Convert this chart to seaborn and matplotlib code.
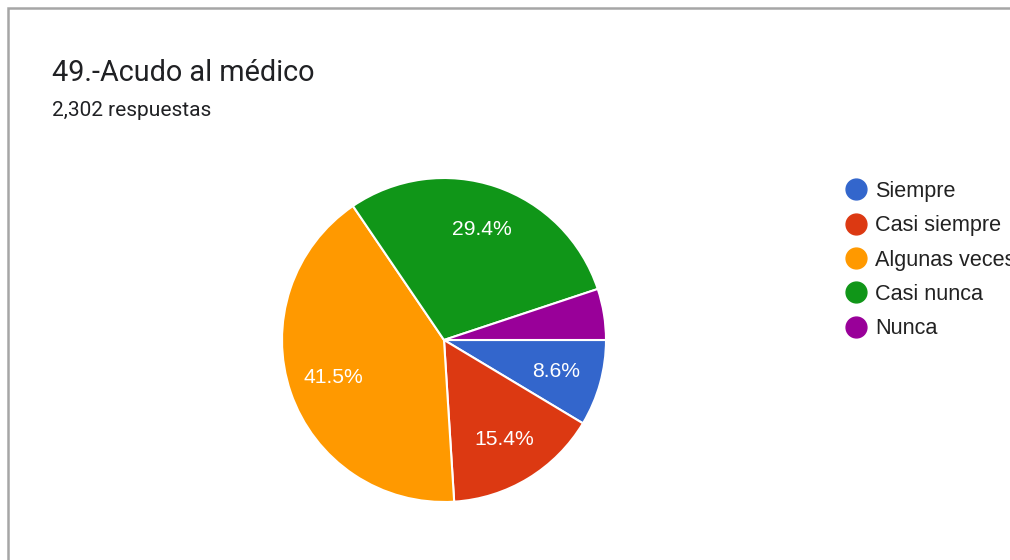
import matplotlib
matplotlib.use("Agg")
import matplotlib.pyplot as plt
import seaborn as sns
from matplotlib.lines import Line2D
from matplotlib.patches import Rectangle

# datos
categorias = ["Siempre", "Casi siempre", "Algunas veces", "Casi nunca", "Nunca"]
porcentajes = [8.6, 15.4, 41.5, 29.4, 5.1]
colores = ["#3366cc", "#dc3912", "#ff9900", "#109618", "#990099"]
titulo = "49.-Acudo al médico"
subtitulo = "2,302 respuestas"

sns.set_theme(style="white")
plt.rcParams['font.family'] = ['Liberation Sans', 'DejaVu Sans']

fig = plt.figure(figsize=(10.1, 5.6), dpi=100)
fig.patch.set_facecolor("white")

# marco gris
fig.add_artist(Rectangle((8 / 1010, -0.1), 1.2, 1.1 - 8 / 560, transform=fig.transFigure,
                         fill=False, edgecolor="#a6a6a6", linewidth=1.8))

fig.text(52 / 1010, 1 - 81 / 560, titulo, fontsize=20.8, color="#202124",
         family=['Roboto', 'DejaVu Sans'], va="baseline")
fig.text(52 / 1010, 1 - 116 / 560, subtitulo, fontsize=15, color="#202124",
         family=['Roboto', 'DejaVu Sans'], va="baseline")

ax = fig.add_axes([282 / 1010, 58 / 560, 324 / 1010, 324 / 560])


def etiqueta(p):
    return "%.1f%%" % p if p >= 6 else ""


wedges, texts, autotexts = ax.pie(porcentajes, colors=colores, startangle=0, counterclock=False,
                                  autopct=etiqueta, pctdistance=0.72, radius=1,
                                  wedgeprops=dict(edgecolor="white", linewidth=1.5))
for t in autotexts:
    t.set_color("white")
    t.set_fontsize(15.2)
ax.set_xlim(-1, 1)
ax.set_ylim(-1, 1)
ax.set_aspect("equal")
ax.axis("off")

handles = [Line2D([], [], marker="o", linestyle="", markersize=15, markerfacecolor=c,
                  markeredgecolor=c) for c in colores]
fig.legend(handles, categorias, loc="upper left", bbox_to_anchor=(834 / 1010, 1 - 172 / 560),
           frameon=False, fontsize=15.6, handletextpad=0.3, labelspacing=0.62,
           handlelength=1.2, borderaxespad=0, labelcolor="#222222")

plt.savefig("out.png", dpi=100)
